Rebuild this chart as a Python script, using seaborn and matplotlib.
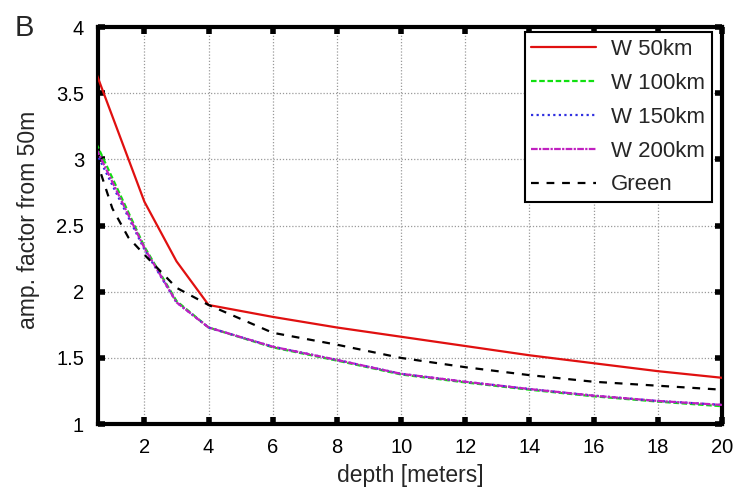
import numpy as np
import pandas as pd
import matplotlib
matplotlib.use("Agg")
import matplotlib.pyplot as plt
import seaborn as sns

# ---- data ----
depth_w = [0.5, 2, 3, 4, 6, 8, 10, 12, 14, 16, 18, 20]
w50 = [3.65, 2.68, 2.23, 1.90, 1.81, 1.73, 1.66, 1.59, 1.52, 1.46, 1.40, 1.35]
w100 = [3.12, 2.34, 1.93, 1.73, 1.58, 1.48, 1.375, 1.315, 1.26, 1.21, 1.17, 1.135]
w150 = [3.05, 2.32, 1.92, 1.73, 1.585, 1.485, 1.38, 1.32, 1.265, 1.215, 1.175, 1.145]
w200 = [3.08, 2.33, 1.92, 1.73, 1.585, 1.485, 1.38, 1.32, 1.265, 1.215, 1.175, 1.145]
depth_g = [0.5, 1, 1.5, 2, 3, 4, 6, 8, 10, 12, 14, 16, 18, 20]
green = [3.0, 2.63, 2.41, 2.28, 2.03, 1.90, 1.69, 1.60, 1.50, 1.43, 1.37, 1.32, 1.29, 1.26]

series_names = ["W 50km", "W 100km", "W 150km", "W 200km", "Green"]
x_ticks = [2, 4, 6, 8, 10, 12, 14, 16, 18, 20]
y_ticks = [1, 1.5, 2, 2.5, 3, 3.5, 4]
y_ticklabels = ["1", "1.5", "2", "2.5", "3", "3.5", "4"]

frames = []
for name, xs, ys in [("W 50km", depth_w, w50), ("W 100km", depth_w, w100),
                     ("W 150km", depth_w, w150), ("W 200km", depth_w, w200),
                     ("Green", depth_g, green)]:
    frames.append(pd.DataFrame({"depth": xs, "amp": ys, "series": name}))
df = pd.concat(frames, ignore_index=True)

sns.set_style("white")
plt.rcParams['font.family'] = ['Liberation Sans', 'DejaVu Sans']

fig = plt.figure(figsize=(7.36, 4.92), dpi=100)
ax = fig.add_axes([0.133, 0.138, 0.848, 0.807])

palette = {"W 50km": "#e01010", "W 100km": "#10e010", "W 150km": "#3030e0",
           "W 200km": "#c020c0", "Green": "black"}
dashes = {"W 50km": "", "W 100km": (2.5, 1.2), "W 150km": (1, 1.5),
          "W 200km": (3, 0.6, 1, 0.6), "Green": (3.5, 3.5)}

sns.lineplot(data=df, x="depth", y="amp", hue="series", style="series",
             hue_order=series_names, style_order=series_names,
             palette=palette, dashes=dashes, linewidth=1.6, ax=ax,
             legend=True, estimator=None, sort=False, zorder=3)

ax.set_xlim(0.55, 20)
ax.set_ylim(1, 4)
ax.set_xticks(x_ticks)
ax.set_yticks(y_ticks)
ax.set_yticklabels(y_ticklabels)
ax.grid(True, color="#9a9a9a", linestyle=(0, (1, 1.5)), linewidth=0.9)
for s in ax.spines.values():
    s.set_linewidth(3)
    s.set_color("black")
    s.set_visible(True)
ax.tick_params(direction="in", length=5, width=4, labelsize=14.5, pad=10,
               top=True, right=True, bottom=True, left=True, colors="black")
ax.set_xlabel("depth [meters]", fontsize=16.5, labelpad=5)
ax.set_ylabel("amp. factor from 50m", fontsize=16.5, labelpad=11)
ax.yaxis.set_label_coords(-0.093, 0.515)

leg = ax.legend(loc="upper right", bbox_to_anchor=(0.984, 0.987), fontsize=16,
                frameon=True, fancybox=False, edgecolor="black",
                handlelength=2.9, labelspacing=0.58, borderpad=0.3,
                handletextpad=0.7, borderaxespad=0)
leg.get_frame().set_linewidth(1.5)
leg.get_frame().set_alpha(1)
leg.set_zorder(5)

fig.text(0.02, 1 - 36 / 492, "B", fontsize=21, va="baseline", ha="left")

fig.savefig("out.png", dpi=100)
